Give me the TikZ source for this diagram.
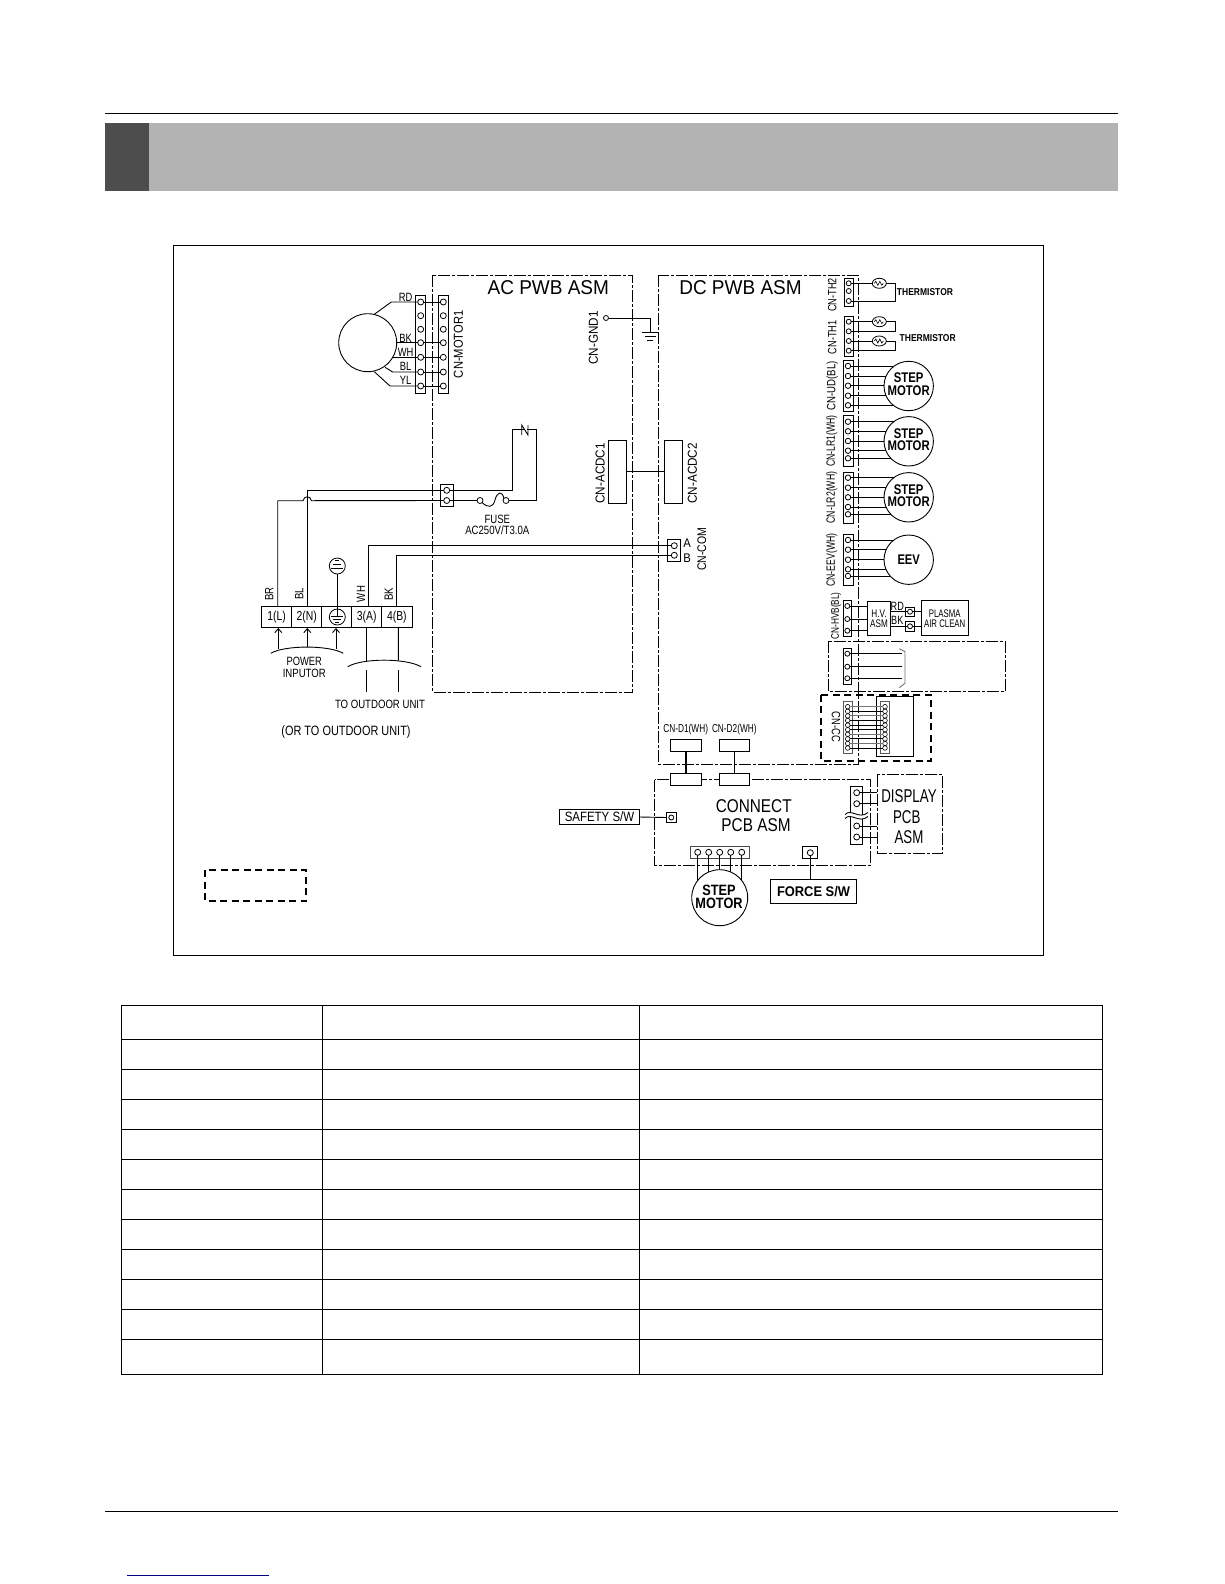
\documentclass[tikz,border=0pt]{standalone}
\usepackage{graphicx}
\usepackage{fontspec}
\setmainfont{Liberation Sans}
\usetikzlibrary{arrows.meta,shapes.geometric,calc}
\newcommand{\lab}[3]{\scalebox{#2}[1]{\fontsize{#1}{#1}\selectfont #3}}
\definecolor{banddark}{HTML}{4D4D4D}
\definecolor{bandgrey}{HTML}{B3B3B3}
\definecolor{linkblue}{HTML}{000080}
\tikzset{
  lbl/.style={inner sep=0pt,outer sep=0pt,anchor=center,text=black},
  side/.style={lbl,rotate=90},
  wire/.style={line width=0.9pt,draw=black},
  greywire/.style={line width=0.9pt,draw=black!55},
  rule/.style={line width=1pt,draw=black},
  dashbox/.style={line width=0.9pt,draw=black,dash pattern=on 12pt off 2pt on 3pt off 2pt},
  thickdash/.style={line width=1.6pt,draw=black,dash pattern=on 7pt off 4.5pt},
  pinpt/.style={circle,draw=black,line width=0.8pt,inner sep=0pt,outer sep=0pt,minimum size=6pt},
  smallpin/.style={pinpt,minimum size=4.6pt,line width=0.6pt},
  bx/.style 2 args={rectangle,draw=black,line width=0.9pt,inner sep=0pt,outer sep=0pt,minimum width=#1,minimum height=#2},
  motorc/.style={circle,draw=black,line width=0.9pt,fill=white,inner sep=0pt,outer sep=0pt,minimum size=#1},
  thermo/.style={ellipse,draw=black,line width=0.8pt,inner sep=0pt,outer sep=0pt,minimum width=14pt,minimum height=10pt},
  earthc/.style={circle,draw=black,line width=0.8pt,inner sep=0pt,outer sep=0pt,minimum size=16pt},
  arrowup/.style={wire,-{Straight Barb[length=4pt,width=7pt]}},
}
\begin{document}
\begin{tikzpicture}[x=1pt,y=-1pt]
\useasboundingbox (0,0) rectangle (1224,1584);
\fill[white] (0,0) rectangle (1224,1584);
% page furniture
\draw[rule] (105,113.3) -- (1118,113.3);
\fill[bandgrey] (149,123) rectangle (1118,190.7);
\fill[banddark] (105,123) rectangle (149,190.7);
\draw[rule] (173.3,245.3) rectangle (1043.3,955.3);
\draw[rule] (105,1511.3) -- (1118,1511.3);
\draw[line width=1pt,draw=linkblue] (127,1575.3) -- (269,1575.3);
% table
\draw[rule] (121.3,1005.3) rectangle (1102.3,1374);
\draw[rule] (322.3,1005.3) -- (322.3,1374);
\draw[rule] (639.5,1005.3) -- (639.5,1374);
\foreach \y in {1039.3,1069.5,1099.7,1129.5,1159.5,1189.7,1219.3,1249.5,1279.7,1309.3,1339.3}
  \draw[rule] (121.3,\y) -- (1102.3,\y);
% legend box
\draw[thickdash] (205,870) rectangle (306,901);
% PWB boxes
\draw[dashbox] (432.5,275.3) rectangle (632.3,692);
\draw[dashbox] (658.3,275.3) rectangle (858.7,764.3);
\node[lbl] (acpwb) at (548.3,288) {\lab{20}{.95}{AC PWB ASM}};
\node[lbl] (dcpwb) at (740.5,288) {\lab{20}{.95}{DC PWB ASM}};
%% ---------- motor ----------
\node[bx={9.6pt}{97.6pt}] (mconl) at (420.5,344.5) {};
\node[bx={10pt}{97.6pt}] (mconr) at (443.3,344.5) {};
\node[motorc=58pt] (fan) at (367.7,342.7) {};
\foreach \i/\y in {1/302,2/315.7,3/329.3,4/342.7,5/357.3,6/372,7/386}{
  \node[pinpt] (ml\i) at (420.7,\y) {};
  \node[pinpt] (mr\i) at (443.3,\y) {};
}
\foreach \i in {1,4,5,6,7} \draw[wire] (ml\i) -- (mr\i);
\coordinate (rda) at (374.3,314.3); \coordinate (rdb) at (391.3,302);
\coordinate (bka) at (396.7,342.7);
\coordinate (wha) at (392.7,357.3);
\coordinate (bla) at (385,367.3); \coordinate (blb) at (392.7,372);
\coordinate (yla) at (374.3,371.7); \coordinate (ylb) at (390,386);
\draw[wire] (rda) -- (rdb) -- (ml1);
\draw[wire] (bka) -- (ml4);
\draw[wire] (wha) -- (ml5);
\draw[wire] (bla) -- (blb) -- (ml6);
\draw[wire] (yla) -- (ylb) -- (ml7);
\node[lbl] (trd) at (405.7,297.5) {\lab{12}{.78}{RD}};
\node[lbl] (tbk) at (405.7,338) {\lab{12}{.78}{BK}};
\node[lbl] (twh) at (405.7,352) {\lab{12}{.78}{WH}};
\node[lbl] (tbl) at (405.7,366.3) {\lab{12}{.78}{BL}};
\node[lbl] (tyl) at (405.7,380.7) {\lab{12}{.78}{YL}};
\node[side] (cnm1) at (458.5,344.3) {\lab{13}{.86}{CN-MOTOR1}};
%% ---------- GND ----------
\node[pinpt,minimum size=5pt] (gnd1) at (606,318) {};
\node[side] (cngnd) at (593.3,338) {\lab{13}{.9}{CN-GND1}};
\coordinate (gb) at (650.7,332.7);
\draw[wire] (gnd1) -| (gb);
\draw[wire] (642.3,332.7) -- (658.3,332.7);
\draw[wire] (645,336.7) -- (655.7,336.7);
\draw[wire] (647.3,340.7) -- (653.3,340.7);
%% ---------- AC/DC link ----------
\node[bx={18.4pt}{63pt}] (acdc1) at (617.5,471.8) {};
\node[bx={18.4pt}{63pt}] (acdc2) at (673.5,471.8) {};
\draw[wire] (acdc1.east) -- (acdc2.west);
\node[side] (tacdc1) at (600.2,473.3) {\lab{13}{.9}{CN-ACDC1}};
\node[side] (tacdc2) at (692.3,473.3) {\lab{13}{.9}{CN-ACDC2}};
%% ---------- mains connector + fuse ----------
\node[bx={13.3pt}{21.7pt}] (accon) at (446.7,495.2) {};
\node[pinpt] (acp1) at (446.7,490.3) {};
\node[pinpt] (acp2) at (446.7,500.5) {};
\node[pinpt] (fuse1) at (480,500.5) {};
\node[pinpt] (fuse2) at (506,500.5) {};
\draw[wire] (fuse1.south east) .. controls (488,508) and (493,508) .. (495,500) .. controls (497,492) and (502,490) .. (fuse2.north west);
\draw[wire] (acp2) -- (fuse1);
\coordinate (thA) at (512.3,429.3);
\coordinate (thB) at (536.7,429.3);
\draw[wire] (acp1) -| (thA) -- (524,429.3);
\draw[wire] (fuse2) -| (thB) -- (527,429.3);
\draw[wire] (521.7,435) -- (521.7,425) -- (528,435) -- (528,425);
\node[lbl] (tfuse) at (497.3,519) {\lab{12}{.8}{FUSE}};
\node[lbl] (tfuse2) at (497.3,530) {\lab{12}{.8}{AC250V/T3.0A}};
%% ---------- terminal block ----------
\node[bx={30pt}{20.3pt}] (t1) at (276.7,616.8) {\lab{13}{.8}{1(L)}};
\node[bx={30pt}{20.3pt}] (t2) at (306.7,616.8) {\lab{13}{.8}{2(N)}};
\node[bx={30pt}{20.3pt}] (t3) at (336.7,616.8) {};
\node[bx={30pt}{20.3pt}] (t4) at (366.7,616.8) {\lab{13}{.8}{3(A)}};
\node[bx={30.3pt}{20.3pt}] (t5) at (396.85,616.8) {\lab{13}{.8}{4(B)}};
% earth
\node[earthc] (e1) at (337.3,566) {};
\node[earthc] (e2) at (337.3,617) {};
\draw[wire] (e1.south) -- (337.3,616);
\draw[wire] (331.3,568) -- (343.3,568);
\draw[wire] (333.3,564.3) -- (341.3,564.3);
\draw[wire] (335.3,560.7) -- (339.3,560.7);
\draw[wire] (331.3,616) -- (343.3,616);
\draw[wire] (333.3,619.3) -- (341.3,619.3);
\draw[wire] (335.3,622.7) -- (339.3,622.7);
% mains wires
\coordinate (hopa) at (303,500.7); \coordinate (hopb) at (311.5,500.7);
\draw[wire] ([xshift=1pt]t1.north) |- (hopa) .. controls (304,495.5) and (310.5,495.5) .. (hopb) -- (acp2);
\draw[wire] ([xshift=.6pt]t2.north) |- (acp1);
\node[side] (tbr) at (269.3,594) {\lab{12}{.8}{BR}};
\node[side] (tbl2) at (299.3,594) {\lab{12}{.8}{BL}};
\node[side] (twh2) at (361,594) {\lab{12}{.8}{WH}};
\node[side] (tbk2) at (388.7,594) {\lab{12}{.8}{BK}};
% CN-COM
\node[bx={13.4pt}{22pt}] (com) at (674,550.3) {};
\node[pinpt] (comA) at (674.3,545.7) {};
\node[pinpt] (comB) at (674.3,555.3) {};
\draw[wire] ([xshift=2pt]t4.north) |- (comA);
\draw[wire] (t5.north) |- (comB);
\node[lbl] (tA) at (687,542.7) {\lab{12.5}{.9}{A}};
\node[lbl] (tB) at (687,558.3) {\lab{12.5}{.9}{B}};
\node[side] (tcom) at (701.7,549.3) {\lab{12.5}{.84}{CN-COM}};
% power input
\coordinate (pa1) at (278.3,649); \coordinate (pa2) at (307.3,647); \coordinate (pa3) at (336,649);
\draw[wire] (270.7,653.3) .. controls (285,645) and (329,645) .. (343.3,653.3);
\draw[arrowup] (pa1) -- (278.3,628);
\draw[arrowup] (pa2) -- (307.3,628);
\draw[arrowup] (pa3) -- (336,628);
\node[lbl] (tpow) at (304.3,661.7) {\lab{12}{.78}{POWER}};
\node[lbl] (tinp) at (304.3,673.3) {\lab{12}{.8}{INPUTOR}};
% to outdoor
\draw[wire] (347.7,666.7) .. controls (362,658) and (406,658) .. (421,666.7);
\draw[wire] (t4.south) -- (366.7,660.5);
\draw[wire] ([xshift=1.5pt]t5.south) -- (398.3,660.5);
\draw[wire] (366.7,670) -- (366.7,691.7);
\draw[wire] (398.3,670) -- (398.3,691.7);
\node[lbl] (tout) at (380,704) {\lab{12}{.8}{TO OUTDOOR UNIT}};
\node[lbl] (tor) at (346,731.7) {\lab{13.5}{.81}{(OR TO OUTDOOR UNIT)}};
%% ---------- thermistors ----------
\node[bx={9.3pt}{27.7pt}] (cth2) at (848.7,292.2) {};
\node[bx={9.3pt}{40pt}] (cth1) at (848.7,336) {};
\foreach \i/\y in {1/283.3,2/291,3/301} \node[pinpt,minimum size=5pt] (thb\i) at (848.7,\y) {};
\foreach \i/\y in {1/321.7,2/331.3,3/341,4/350.7} \node[pinpt,minimum size=5pt] (tha\i) at (848.7,\y) {};
\node[thermo] (rt1) at (879.3,283.3) {};
\node[thermo] (rt2) at (879.3,321.7) {};
\node[thermo] (rt3) at (879.3,341) {};
\foreach \n/\p/\q/\yy/\yb in {rt1/thb1/thb3/283.3/301, rt2/tha1/tha2/321.7/331.3, rt3/tha3/tha4/341/350.7}{
  \draw[wire] (\p) -- (\n.west);
  \coordinate (\n c) at (895,\yb);
  \draw[wire] (\n.east) -| (\n c) -- (\q);
  \draw[line width=.6pt] ($(\n)+(-5,0)$) -- ++(1.5,-2) -- ++(2,4) -- ++(2,-4) -- ++(2,4) -- ++(1.5,-2);
}
\node[lbl] (tthm2) at (925,292) {\lab{10}{.85}{\bfseries THERMISTOR}};
\node[lbl] (tthm1) at (927.7,337.7) {\lab{10}{.85}{\bfseries THERMISTOR}};
\node[side] (lth2) at (832.3,295) {\lab{12}{.76}{CN-TH2}};
\node[side] (lth1) at (832.3,337.3) {\lab{12}{.76}{CN-TH1}};
%% ---------- step motors & EEV ----------
\foreach \n/\cy/\ya/\yb/\yc/\yd/\ye/\bt/\bb in {
  ud/386/366/376/385.7/395.7/405.3/360/411.3,
  lra/441.3/421.7/431.3/441/450.7/458.3/415.7/466.7,
  lrb/497.3/477.7/487.7/497.3/507/514.3/472/523.3,
  eev/559.7/540/549.7/559.7/569.3/576/534.3/585}{
  \coordinate (\n c) at (908.7,\cy);
  \pgfmathsetmacro{\bh}{\bb-\bt}
  \pgfmathsetmacro{\bc}{(\bb+\bt)/2}
  \node[bx={10.7pt}{\bh pt}] (\n con) at (848.3,\bc) {};
  \foreach \i/\y in {1/\ya,2/\yb,3/\yc,4/\yd,5/\ye}{
    \node[pinpt,minimum size=5.5pt] (\n p\i) at (848,\y) {};
    \draw[wire] (\n p\i) -- (\n p\i -| \n c);
  }
  \node[motorc=49.4pt] (\n m) at (\n c) {};
}
\node[lbl] (s1) at (908.7,378) {\lab{14}{.81}{\bfseries STEP}};
\node[lbl] (m1) at (908.7,390.3) {\lab{14}{.81}{\bfseries MOTOR}};
\node[lbl] (s2) at (908.7,433.3) {\lab{14}{.81}{\bfseries STEP}};
\node[lbl] (m2) at (908.7,445.6) {\lab{14}{.81}{\bfseries MOTOR}};
\node[lbl] (s3) at (908.7,489.3) {\lab{14}{.81}{\bfseries STEP}};
\node[lbl] (m3) at (908.7,501.6) {\lab{14}{.81}{\bfseries MOTOR}};
\node[lbl] (ev) at (908.7,559.7) {\lab{14}{.8}{\bfseries EEV}};
\node[side] (lud) at (832.3,385.7) {\lab{12}{.8}{CN-UD(BL)}};
\node[side] (llr1) at (831.7,441) {\lab{12}{.725}{CN-LR1(WH)}};
\node[side] (llr2) at (831.7,497.5) {\lab{12}{.725}{CN-LR2(WH)}};
\node[side] (leev) at (831.7,560) {\lab{12}{.725}{CN-EEV(WH)}};
%% ---------- H.V. / plasma ----------
\node[bx={8pt}{35.3pt}] (hvcon) at (847.7,618.4) {};
\foreach \i/\y in {1/606,2/619,3/630.7} \node[pinpt,minimum size=5pt] (hvp\i) at (847.3,\y) {};
\node[bx={23.4pt}{34pt}] (hv) at (879,618.3) {};
\foreach \i in {1,2,3} \draw[wire] (hvp\i) -- (hvp\i -| hv.west);
\node[lbl] (thva) at (879,613.3) {\lab{11}{.74}{H.V.}};
\node[lbl] (thvb) at (879,623.3) {\lab{11}{.74}{ASM}};
\node[bx={47.4pt}{35pt}] (plasma) at (945,617.8) {};
\node[lbl] (tpl) at (944.7,613.3) {\lab{11}{.71}{PLASMA}};
\node[lbl] (tac) at (944.7,623.3) {\lab{11}{.71}{AIR CLEAN}};
\node[bx={8.6pt}{9.3pt}] (pb1) at (910,611.7) {};
\node[bx={8.6pt}{9.3pt}] (pb2) at (910,626.3) {};
\node[pinpt,minimum size=5pt] (pp1) at (910,611.7) {};
\node[pinpt,minimum size=5pt] (pp2) at (910,626.3) {};
\draw[wire] (pp1 -| hv.east) -- (pp1);
\draw[wire] (pp2 -| hv.east) -- (pp2);
\draw[wire] (pp1) -- (pp1 -| plasma.west);
\draw[wire] (pp2) -- (pp2 -| plasma.west);
\node[lbl] (thrd) at (897.3,606) {\lab{12}{.76}{RD}};
\node[lbl] (thbk) at (897.3,620) {\lab{12}{.76}{BK}};
\node[side] (lhv) at (836,616) {\lab{11}{.75}{CN-HVB(BL)}};
%% ---------- optional dash-dot box ----------
\draw[dashbox] (828.3,641.3) rectangle (1005.7,691.3);
\node[bx={8pt}{35.3pt}] (opcon) at (847.7,666.3) {};
\foreach \i/\y in {1/653.7,2/666.7,3/678.3}{
  \node[pinpt,minimum size=5pt] (opp\i) at (847.3,\y) {};
  \coordinate (ope\i) at (901.7,\y);
  \draw[wire] (opp\i) -- (ope\i);
}
\coordinate (brkA) at (899.3,648.7); \coordinate (brkB) at (905,651.7);
\coordinate (brkC) at (905,683.3);   \coordinate (brkD) at (899.3,687.7);
\draw[greywire] (brkA) -- (brkB) -- (brkC) -- (brkD);
%% ---------- CN-CC ----------
\draw[thickdash] (820.7,694.7) rectangle (931,760.7);
\node[bx={8.7pt}{51.7pt},draw=black!65] (ccl) at (847.7,727.5) {};
\node[bx={8.6pt}{51.7pt},draw=black!65] (ccr) at (885,727.5) {};
\node[bx={36.6pt}{60pt}] (ccbox) at (895,726.7) {};
\foreach \i/\y/\c in {1/706.7/greywire,2/711.3/wire,3/715.9/greywire,4/720.5/wire,5/725.1/wire,6/729.7/wire,7/734.3/greywire,8/738.9/wire,9/743.5/greywire,10/748/wire}{
  \node[smallpin] (cca\i) at (847.7,\y) {};
  \node[smallpin] (ccc\i) at (885,\y) {};
  \draw[\c] (cca\i) -- (ccc\i);
}
\node[lbl,rotate=-90] (lcc) at (836,726.7) {\lab{12}{.78}{CN-CC}};
%% ---------- D1 / D2 ----------
\node[lbl] (ld1) at (685.7,730) {\lab{11.5}{.72}{CN-D1(WH)}};
\node[lbl] (ld2) at (734.3,730) {\lab{11.5}{.72}{CN-D2(WH)}};
\draw[dashbox] (654.7,779.7) rectangle (870.7,865.3);
\node[bx={31.4pt}{12.4pt}] (d1t) at (686,745.5) {};
\node[bx={30.4pt}{12.4pt}] (d2t) at (734.5,745.5) {};
\node[bx={31.4pt}{12pt},fill=white] (d1b) at (686,779.3) {};
\node[bx={30.4pt}{12pt},fill=white] (d2b) at (734.5,779.3) {};
\draw[line width=2pt] (d1t.south) -- (d1b.north);
\draw[wire] (d2t.south) -- (d2b.north);
\node[lbl] (tcon1) at (753.7,806.3) {\lab{18.5}{.83}{CONNECT}};
\node[lbl] (tcon2) at (756,825.3) {\lab{18.5}{.83}{PCB ASM}};
%% ---------- display ----------
\draw[dashbox] (877.3,774.7) rectangle (942.7,853.3);
\node[rectangle,inner sep=0pt,outer sep=0pt,minimum width=65.4pt,minimum height=78.6pt] (disp) at (910,814) {};
\node[lbl] (td1) at (909,796.3) {\lab{18.5}{.72}{DISPLAY}};
\node[lbl] (td2) at (906.7,817) {\lab{18.5}{.72}{PCB}};
\node[lbl] (td3) at (909,837.3) {\lab{18.5}{.72}{ASM}};
\node[bx={12pt}{57.6pt}] (dcon) at (856.7,815.5) {};
\foreach \i/\y in {1/792.7,2/803.7,3/826,4/837}{
  \node[pinpt] (dp\i) at (856.7,\y) {};
  \draw[wire] (dp\i) -- (dp\i -| disp.west);
}
\fill[white] (845,814.5) .. controls (851,808) and (859,820) .. (868,812.5) -- (868,816.5) .. controls (859,824) and (851,812) .. (845,818.5) -- cycle;
\draw[wire] (845,814.5) .. controls (851,808) and (859,820) .. (868,812.5);
\draw[wire] (845,818.5) .. controls (851,812) and (859,824) .. (868,816.5);
%% ---------- safety ----------
\node[bx={79.6pt}{15.4pt}] (safety) at (599.5,817) {\lab{13.5}{.85}{SAFETY S/W}};
\node[bx={10pt}{9.6pt}] (sbox) at (671.7,817.5) {};
\node[pinpt,minimum size=5pt] (spin) at (671.3,817.5) {};
\draw[wire] (safety.east) -- (sbox.west);
%% ---------- bottom step motor ----------
\coordinate (bmc) at (719.7,897.7);
\node[bx={58.3pt}{12pt},draw=black!70] (bcon) at (719.8,852) {};
\foreach \i/\x in {1/697.7,2/708.7,3/719.7,4/730.7,5/741.7}{
  \node[pinpt] (bp\i) at (\x,852.3) {};
  \draw[wire] (bp\i) -- (bp\i |- bmc);
}
\node[motorc=56pt] (bm) at (bmc) {};
\node[lbl] (bs) at (719,890) {\lab{15}{.85}{\bfseries STEP}};
\node[lbl] (bmt) at (719,903.7) {\lab{15}{.85}{\bfseries MOTOR}};
%% ---------- force ----------
\node[bx={15pt}{12pt}] (fbox) at (810.2,852.3) {};
\node[pinpt] (fpin) at (810.3,852.7) {};
\node[bx={85.6pt}{24pt}] (force) at (813.5,891.3) {\lab{14}{.92}{\bfseries FORCE S/W}};
\draw[wire] (fpin) -- (fpin |- force.north);
\end{tikzpicture}
\end{document}
